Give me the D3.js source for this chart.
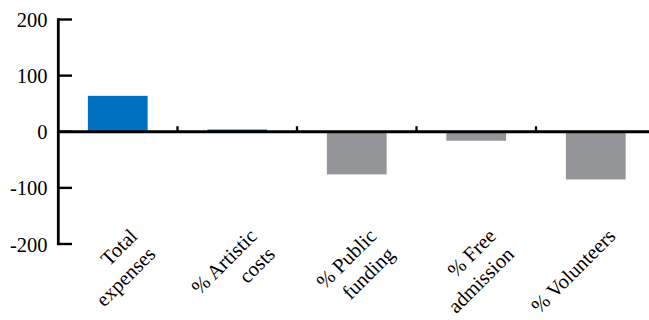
<!DOCTYPE html>
<html>
<head>
<meta charset="utf-8">
<script src="https://cdn.jsdelivr.net/npm/d3@7"></script>
<style>
  html, body { margin: 0; padding: 0; background: #fff; }
  svg { display: block; }
  text { font-family: "Liberation Serif", "Times New Roman", serif; fill: #000; }
</style>
</head>
<body>
<svg id="chart" width="649" height="320"></svg>
<script>
// ---- data ----
const categories = [
  ["Total", "expenses"],
  ["% Artistic", "costs"],
  ["% Public", "funding"],
  ["% Free", "admission"],
  ["% Volunteers"]
];
const values = [64, 4, -76, -16, -85];
const yTicks = [-200, -100, 0, 100, 200];

// ---- layout ----
const W = 649, H = 320;
const svg = d3.select("#chart");
const keys = categories.map(c => c.join(" "));

const x = d3.scaleBand()
  .domain(keys)
  .range([58, 655.5])
  .paddingInner(0.5)
  .paddingOuter(0.25);

const y = d3.scaleLinear()
  .domain([-200, 200])
  .range([244, 19.5]);

const posColor = "#0070C0";
const negColor = "#939598";

// bars
svg.append("g")
  .selectAll("rect")
  .data(values)
  .join("rect")
  .attr("x", (d, i) => x(keys[i]))
  .attr("width", x.bandwidth())
  .attr("y", d => y(Math.max(0, d)))
  .attr("height", d => Math.abs(y(d) - y(0)))
  .attr("fill", d => d >= 0 ? posColor : negColor);

// y axis
const yAxis = svg.append("g");
yAxis.append("line")
  .attr("x1", 58.3).attr("x2", 58.3)
  .attr("y1", y(200) - 1.2).attr("y2", y(-200) + 1.2)
  .attr("stroke", "#000").attr("stroke-width", 2.8);
yAxis.selectAll("line.tick")
  .data(yTicks)
  .join("line")
  .attr("class", "tick")
  .attr("x1", 58).attr("x2", 72)
  .attr("y1", d => y(d)).attr("y2", d => y(d))
  .attr("stroke", "#000").attr("stroke-width", 2.4);
yAxis.selectAll("text")
  .data(yTicks)
  .join("text")
  .attr("x", 47.5)
  .attr("y", d => y(d) + 7.6)
  .attr("text-anchor", "end")
  .attr("font-size", 20.5)
  .text(d => d < 0 ? "-" + Math.abs(d) : d);

// x axis (at zero)
const xAxis = svg.append("g");
xAxis.append("line")
  .attr("x1", 57).attr("x2", W)
  .attr("y1", y(0)).attr("y2", y(0))
  .attr("stroke", "#000").attr("stroke-width", 2.8);
const boundaries = keys.slice(1).map(k => x(k) - x.step() * x.paddingInner() / 2);
xAxis.selectAll("line.ctick")
  .data(boundaries)
  .join("line")
  .attr("class", "ctick")
  .attr("x1", d => d).attr("x2", d => d)
  .attr("y1", y(0)).attr("y2", y(0) - 5.5)
  .attr("stroke", "#000").attr("stroke-width", 2.3);

// category labels: rotated -45, lines right-aligned, end anchored near band
const fs = 20.5;
const lh = 25.5;
const labelTop = 227.5;
const asc = 0.68 * fs;
const k = Math.SQRT1_2;
categories.forEach((lines, i) => {
  const cx = x(keys[i]) + x.bandwidth() / 2;
  // top-right ink point of first line = (0,-asc) rotated by -45
  const ox = cx + 11 + k * asc;
  const oy = labelTop + k * asc;
  const g = svg.append("g")
    .attr("transform", `translate(${ox},${oy}) rotate(-45)`);
  g.selectAll("text")
    .data(lines)
    .join("text")
    .attr("x", 0)
    .attr("y", (d, j) => j * lh)
    .attr("text-anchor", "end")
    .attr("font-size", fs)
    .text(d => d);
});
</script>
</body>
</html>
